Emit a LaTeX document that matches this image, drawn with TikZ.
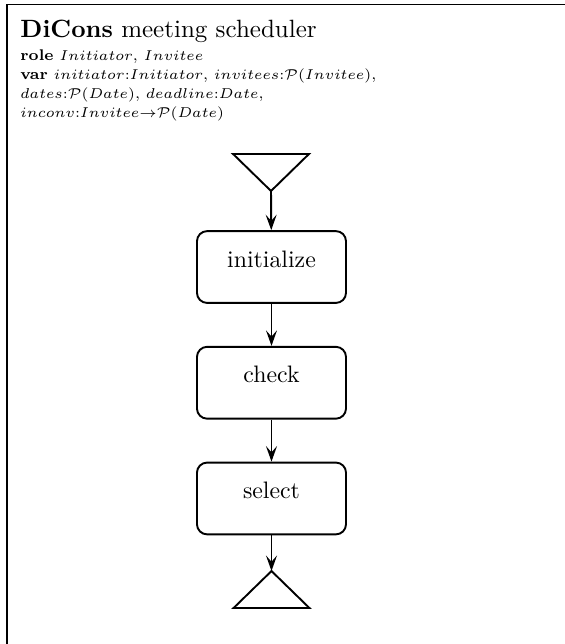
\documentclass[tikz,border=0pt]{standalone}
\usetikzlibrary{arrows.meta,positioning}

\tikzset{
  activity/.style={draw, thick, rounded corners=0.15cm, minimum width=2.2cm,
    minimum height=1.06cm, text height=1.5ex, text depth=1.5ex},
  flow/.style={thick, -{Stealth[length=6.5pt,width=4.6pt,inset=2.6pt]}}
}

\begin{document}
\begin{tikzpicture}
    \useasboundingbox (0,0) rectangle (8.325,-9.505);
    % frame of the scenario
    \draw[thick] (8.4,-0.066) -- (0.103,-0.066) -- (0.103,-9.6);

    % heading and declarations
    \node[anchor=base west, inner sep=0pt, font=\fontsize{10.5}{13}\selectfont]
      (title) at (0.295,-0.55) {\textbf{DiCons} meeting scheduler};
    \node[below=0.1cm of title.south west, anchor=north west, inner sep=0pt,
      align=left, font=\fontsize{6.5}{7.9}\selectfont] (decl) {%
      \textbf{role} $Initiator$, $Invitee$\\
      \textbf{var} $initiator{:}Initiator$, $invitees{:}\mathcal{P}(Invitee)$,\\
      $dates{:}\mathcal{P}(Date)$, $deadline{:}Date$,\\
      $inconv{:}Invitee{\rightarrow}\mathcal{P}(Date)$};

    % start and end points
    \coordinate (start) at (4.0,-2.819);
    \draw[thick] (start) -- ++(-0.56,0.546) -- ++(1.12,0) -- cycle;

    \node[activity] (init) at (4.007,-3.941) {initialize};
    \node[activity, below=0.62cm of init] (check) {check};
    \node[activity, below=0.62cm of check] (select) {select};

    \coordinate (stop) at (4.007,-8.428);
    \draw[thick] (stop) -- ++(-0.56,-0.546) -- ++(1.12,0) -- cycle;

    \draw[flow] (start) -- (init);
    \draw[flow] (init) -- (check);
    \draw[flow] (check) -- (select);
    \draw[flow] (select) -- (stop);
  \end{tikzpicture}
\end{document}
